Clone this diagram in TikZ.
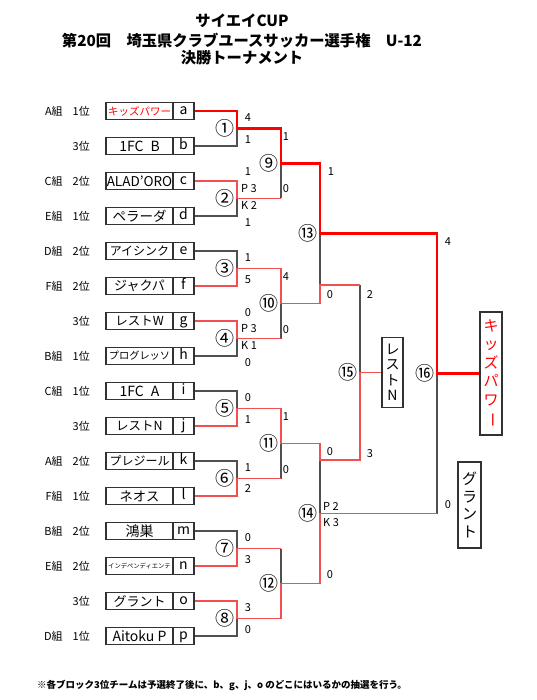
\documentclass[tikz,border=0pt]{standalone}
\usepackage{fontspec}
\setmainfont{Noto Sans CJK JP}
\definecolor{wred}{RGB}{255,0,0}
\definecolor{lred}{RGB}{240,80,80}
\definecolor{lgray}{RGB}{80,80,80}
\definecolor{bx}{RGB}{50,50,50}
\tikzset{
 teambox/.style={draw=bx, line width=1.2pt, minimum width=67pt, minimum height=17pt, inner sep=0pt},
 letterbox/.style={draw=bx, line width=1.2pt, minimum width=21pt, minimum height=17pt, inner sep=0pt, text height=8pt, text depth=1pt, font=\fontsize{14}{14}\selectfont},
 grp/.style={anchor=east, inner sep=0pt, font=\fontsize{11}{11}\selectfont},
 score/.style={inner sep=0pt, font=\fontsize{11}{11}\selectfont},
 pk/.style={anchor=west, inner sep=0pt, font=\fontsize{11}{11}\selectfont},
 mnum/.style={inner sep=0pt, anchor=east, font=\fontsize{19}{19}\selectfont},
 vbox/.style={draw=bx, line width=1.2pt, inner sep=0pt, align=center},
 champ/.style={draw=wred, line width=2.3pt},
 win/.style={draw=lred, line width=1.3pt},
 lose/.style={draw=lgray, line width=1.2pt},
 ttl/.style={inner sep=0pt, font=\bfseries\fontsize{15.3}{15.3}\selectfont},
}
\newcommand{\teamrow}[5]{%
 \node[grp] (g#1) at (90,#2) {#3};
 \node[teambox, font=\fontsize{#4}{#4}\selectfont] (n#1) at (139.5,#2) {#5};
 \node[letterbox] (#1) at (183.5,#2) {#1};
}
\begin{document}
\begin{tikzpicture}[x=1pt,y=-1pt]
\useasboundingbox (0,0) rectangle (536,700);
\fill[white] (0,0) rectangle (536,700);
% title
\node[ttl] (t1) at (242,21) {サイエイCUP};
\node[ttl] (t2) at (242,41) {第20回\hspace{1em}埼玉県クラブユースサッカー選手権\hspace{1em}U-12};
\node[ttl] (t3) at (242,57.5) {決勝トーナメント};
% teams
\teamrow{a}{111}{A組\hspace{10pt}1位}{10.5}{\textcolor{red}{キッズパワー}}
\teamrow{b}{146}{3位}{14}{1FC\hspace{0.5em}B}
\teamrow{c}{181}{C組\hspace{10pt}2位}{13.5}{ALAD'ORO}
\teamrow{d}{216}{E組\hspace{10pt}1位}{13.5}{ペラーダ}
\teamrow{e}{251}{D組\hspace{10pt}2位}{12}{アイシンク}
\teamrow{f}{286}{F組\hspace{10pt}2位}{13}{ジャクパ}
\teamrow{g}{321}{3位}{12.5}{レストW}
\teamrow{h}{356}{B組\hspace{10pt}1位}{10.2}{プログレッソ}
\teamrow{i}{391}{C組\hspace{10pt}1位}{14}{1FC\hspace{0.5em}A}
\teamrow{j}{426}{3位}{12.5}{レストN}
\teamrow{k}{461}{A組\hspace{10pt}2位}{12}{プレジール}
\teamrow{l}{496}{F組\hspace{10pt}1位}{13.3}{ネオス}
\teamrow{m}{531}{B組\hspace{10pt}2位}{14}{鴻巣}
\teamrow{n}{566}{E組\hspace{10pt}2位}{6.3}{インデペンディエンテ}
\teamrow{o}{601}{3位}{13}{グラント}
\teamrow{p}{636}{D組\hspace{10pt}1位}{14}{Aitoku P}
% bracket joints
\coordinate (r1) at (237,128.5);
\coordinate (r2) at (237,198.5);
\coordinate (r3) at (237,268.5);
\coordinate (r4) at (237,338.5);
\coordinate (r5) at (237,408.5);
\coordinate (r6) at (237,478.5);
\coordinate (r7) at (237,548.5);
\coordinate (r8) at (237,618.5);
\coordinate (s9) at (281,163.5);
\coordinate (s10) at (281,303.5);
\coordinate (s11) at (281,443.5);
\coordinate (s12) at (281,583.5);
\coordinate (t13) at (320,233.5);
\coordinate (t14) at (320,513.5);
\coordinate (q13) at (320,285);
\coordinate (q13b) at (360,285);
\coordinate (q14) at (320,460);
\coordinate (q14b) at (360,460);
\coordinate (u15) at (360,372.5);
\coordinate (w14) at (437,513.5);
\coordinate (v16) at (437,373.5);
% result boxes
\node[vbox, text=red, font=\fontsize{15}{18.5}\selectfont, minimum width=22pt, minimum height=123pt] (champbox) at (491,373.5) {キ\\ッ\\ズ\\パ\\ワ\\\rotatebox[origin=c]{-90}{ー}};
\node[vbox, font=\fontsize{14}{15.5}\selectfont, minimum width=21pt, minimum height=70pt] (thirdbox) at (392.5,372.5) {レ\\ス\\ト\\N};
\node[vbox, font=\fontsize{15}{17.5}\selectfont, minimum width=23pt, minimum height=86pt] (runbox) at (469.5,505) {グ\\ラ\\ン\\ト};
% losing lines
\draw[lose] (b.east) -| (r1);
\draw[lose] (d.east) -| (r2);
\draw[lose] (e.east) -| (r3);
\draw[lose] (h.east) -| (r4);
\draw[lose] (i.east) -| (r5);
\draw[lose] (k.east) -| (r6);
\draw[lose] (m.east) -| (r7);
\draw[lose] (p.east) -| (r8);
\draw[lose] (r2 -| s9) -- (s9);
\draw[lose] (r4 -| s10) -- (s10);
\draw[lose] (r6 -| s11) -- (s11);
\draw[lose] (r7 -| s12) -- (s12);
\draw[lose] (t13) -- (q13);
\draw[lose] (q14) -- (t14);
\draw[lose] (q13b) -- (u15);
\draw[lose] (w14) -- (v16);
% winning lines
\draw[win] (c.east) -| (r2) -- (r2 -| s9);
\draw[win] (g.east) -| (r4) -- (r4 -| s10);
\draw[win] (l.east) -| (r6) -- (r6 -| s11);
\draw[win] (n.east) -| (r7) -- (r7 -| s12);
\draw[win] (f.east) -| (r3) -| (s10) -| (q13) -- (q13b);
\draw[win] (j.east) -| (r5) -| (s11) -| (q14) -- (q14b) -- (u15) -- (thirdbox.west);
\draw[win] (o.east) -| (r8) -| (s12) -| (t14) -- (w14);
\draw[champ] (a.east) -| (r1) -| (s9) -| (t13) -| (v16) -- (champbox.west);
% match numbers
\node[mnum] (c1) at ([xshift=-2pt]r1) {①};
\node[mnum] (c2) at ([xshift=-2pt]r2) {②};
\node[mnum] (c3) at ([xshift=-2pt]r3) {③};
\node[mnum] (c4) at ([xshift=-2pt]r4) {④};
\node[mnum] (c5) at ([xshift=-2pt]r5) {⑤};
\node[mnum] (c6) at ([xshift=-2pt]r6) {⑥};
\node[mnum] (c7) at ([xshift=-2pt]r7) {⑦};
\node[mnum] (c8) at ([xshift=-2pt]r8) {⑧};
\node[mnum] (c9) at ([xshift=-2pt]s9) {⑨};
\node[mnum] (c10) at ([xshift=-2pt]s10) {⑩};
\node[mnum] (c11) at ([xshift=-2pt]s11) {⑪};
\node[mnum] (c12) at ([xshift=-2pt]s12) {⑫};
\node[mnum] (c13) at ([xshift=-2pt]t13) {⑬};
\node[mnum] (c14) at ([xshift=-2pt]t14) {⑭};
\node[mnum] (c15) at ([xshift=-2pt]u15) {⑮};
\node[mnum] (c16) at ([xshift=-2pt]v16) {⑯};
% scores round 1
\node[score] (sa1) at (248,118) {4};
\node[score] (sb1) at (248,140) {1};
\node[score] (sc1) at (248,172) {1};
\node[pk] (pc1) at (241,189) {P 3};
\node[pk] (kd1) at (241,205) {K 2};
\node[score] (sd1) at (248,223) {1};
\node[score] (se1) at (248,258) {1};
\node[score] (sf1) at (248,280) {5};
\node[score] (sg1) at (248,313) {0};
\node[pk] (pg1) at (241,329) {P 3};
\node[pk] (kh1) at (241,345) {K 1};
\node[score] (sh1) at (248,363) {0};
\node[score] (si1) at (248,398) {0};
\node[score] (sj1) at (248,420) {1};
\node[score] (sk1) at (248,468) {1};
\node[score] (sl1) at (248,489) {2};
\node[score] (sm1) at (248,538) {0};
\node[score] (sn1) at (248,560) {3};
\node[score] (so1) at (248,608) {3};
\node[score] (sp1) at (248,630) {0};
% scores round 2
\node[score] (s9a) at (286,137) {1};
\node[score] (s9b) at (286,189) {0};
\node[score] (s10a) at (286,277) {4};
\node[score] (s10b) at (286,330) {0};
\node[score] (s11a) at (286,417) {1};
\node[score] (s11b) at (286,470) {0};
% scores round 3
\node[score] (s13a) at (331,172) {1};
\node[score] (s13b) at (330,295) {0};
\node[score] (s14a) at (330,452) {0};
\node[pk] (p14) at (323,506) {P 2};
\node[pk] (k14) at (323,523) {K 3};
\node[score] (s14b) at (330,575) {0};
\node[score] (s15a) at (370,295) {2};
\node[score] (s15b) at (370,454) {3};
\node[score] (s16a) at (448,242) {4};
\node[score] (s16b) at (448,505) {0};
% footnote
\node[anchor=west, inner sep=0pt, font=\bfseries\fontsize{9.5}{9.5}\selectfont] (note) at (37,685) {※各ブロック3位チームは予選終了後に、b、g、j、o のどこにはいるかの抽選を行う。};
\end{tikzpicture}
\end{document}
